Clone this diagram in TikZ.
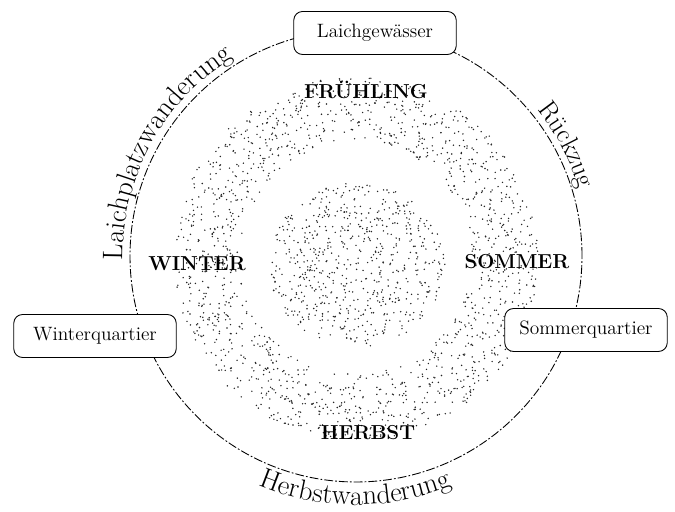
\documentclass[tikz,border=0pt]{standalone}
\usetikzlibrary{decorations.text}
\begin{document}
\begin{tikzpicture}[x=0.2mm, y=0.2mm,
    quarter/.style={draw, line width=0.5pt, rounded corners=5pt, fill=white, minimum width=3.25cm, minimum height=0.86cm, font=\fontsize{11}{13}\selectfont},
    season/.style={font=\bfseries\fontsize{11.5}{13}\selectfont, inner sep=1pt},
    track/.style={line width=0.5pt, dash pattern=on 5pt off 1.2pt on 1pt off 1.2pt},
    speck/.style={fill=black!85}]
  \useasboundingbox (0,0) rectangle (675,512);
  \coordinate (mid) at (356,256);
  \coordinate (band) at (356,254);
  \coordinate (core) at (357,247);
  % stippled year ring and centre
  \pgfmathsetseed{11}
  \foreach \k in {1,...,1500}{
    \pgfmathsetmacro{\ang}{360*rnd}
    \pgfmathsetmacro{\rad}{100*sqrt(1.35+rnd*1.96)}
    \fill[speck] ([shift={(\ang:\rad)}]band) circle[radius=0.8];}
  \foreach \k in {1,...,650}{
    \pgfmathsetmacro{\ang}{360*rnd}
    \pgfmathsetmacro{\rad}{88*sqrt(rnd)}
    \fill[speck] ([shift={(\ang:{\rad} and {0.93*\rad})}]core) circle[radius=0.8];}
  \draw[track] (mid) circle[radius=226];
  \node[quarter] (spawn) at (375,479) {Laichgewässer};
  \node[quarter] (winterq) at (95,176) {Winterquartier};
  \node[quarter] (summerq) at (586,182) {Sommerquartier};
  \node[season] (spring) at (366,422) {FRÜHLING};
  \node[season] (summer) at (517,250) {SOMMER};
  \node[season] (autumn) at (368,79) {HERBST};
  \node[season] (winter) at (197,248) {WINTER};
  \path[decorate, decoration={text along path, text align=left, text={|\fontsize{16}{19}\selectfont|Laichplatzwanderung}}]
    ([shift={(181:233)}]mid) arc[start angle=181, end angle=100, radius=233];
  \path[decorate, decoration={text along path, text align=left, text={|\fontsize{15}{18}\selectfont|Rückzug}}]
    ([shift={(39:233)}]mid) arc[start angle=39, end angle=0, radius=233];
  \path[decorate, decoration={text along path, text align=left, text={|\fontsize{16}{19}\selectfont|Herbstwanderung}}]
    ([shift={(247:249)}]mid) arc[start angle=247, end angle=315, radius=249];
\end{tikzpicture}
\end{document}
